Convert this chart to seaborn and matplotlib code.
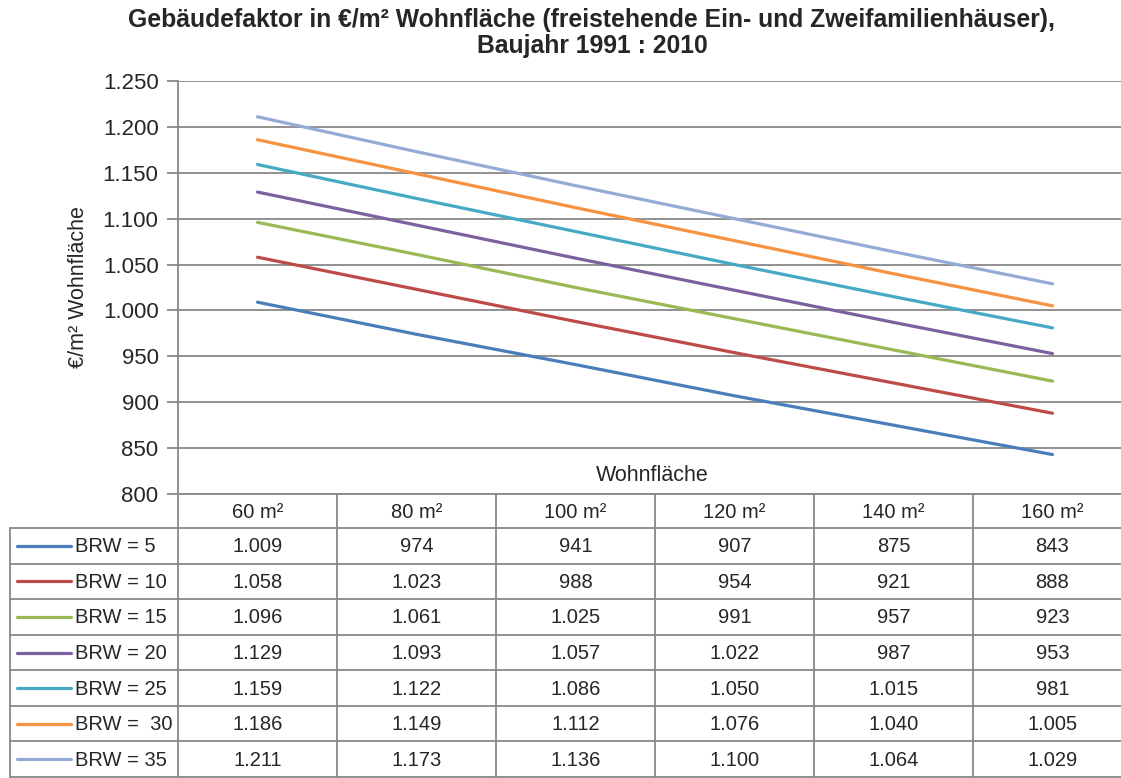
import matplotlib
matplotlib.use('Agg')
import matplotlib.pyplot as plt
import seaborn as sns
import pandas as pd
import numpy as np

# Daten
flaechen = ['60 m²', '80 m²', '100 m²', '120 m²', '140 m²', '160 m²']
serien = ['BRW = 5', 'BRW = 10', 'BRW = 15', 'BRW = 20', 'BRW = 25', 'BRW =  30', 'BRW = 35']
brw_5 = [1009, 974, 941, 907, 875, 843]
brw_10 = [1058, 1023, 988, 954, 921, 888]
brw_15 = [1096, 1061, 1025, 991, 957, 923]
brw_20 = [1129, 1093, 1057, 1022, 987, 953]
brw_25 = [1159, 1122, 1086, 1050, 1015, 981]
brw_30 = [1186, 1149, 1112, 1076, 1040, 1005]
brw_35 = [1211, 1173, 1136, 1100, 1064, 1029]
werte = [brw_5, brw_10, brw_15, brw_20, brw_25, brw_30, brw_35]
farben = ['#4A7EBB', '#BE4B48', '#98B954', '#7D60A0', '#46AAC5', '#F69240', '#95ABD6']

rows = []
for s, vals in zip(serien, werte):
    for i, v in enumerate(vals):
        rows.append({'serie': s, 'pos': i, 'wert': v})
df = pd.DataFrame(rows)

def de_fmt(v):
    return f'{v:,.0f}'.replace(',', '.')

sns.set_style('white')
plt.rcParams['font.family'] = ['Liberation Sans', 'DejaVu Sans']
grau = '#888888'

W, H = 1121, 778
fig = plt.figure(figsize=(W / 100, H / 100), dpi=100)

# Plotbereich in Pixeln
x0, y_top, y_bot = 178, 81, 494
col_w = 159
ax = fig.add_axes([x0 / W, 1 - y_bot / H, 6 * col_w / W, (y_bot - y_top) / H])
sns.lineplot(data=df, x='pos', y='wert', hue='serie', palette=farben,
             linewidth=2.3, legend=False, ax=ax)
ax.set_xlim(-0.5, 5.5)
ax.set_ylim(800, 1250)
ax.set_yticks(np.arange(800, 1251, 50))
ax.set_yticklabels([de_fmt(v) for v in np.arange(800, 1251, 50)], fontsize=16)
ax.set_xticks([])
ax.set_xlabel('')
ax.set_ylabel('€/m² Wohnfläche', fontsize=15.5, labelpad=10)
ax.yaxis.grid(True, color=grau, linewidth=1.3)
ax.tick_params(axis='y', length=8, width=1.3, color=grau, pad=6, left=True)
for sp in ['top', 'right']:
    ax.spines[sp].set_visible(False)
for sp in ['left', 'bottom']:
    ax.spines[sp].set_color(grau)
    ax.spines[sp].set_linewidth(1.3)
ax.text(2.48, 820, 'Wohnfläche', fontsize=15.5, ha='center', va='center')

# Titel
fig.text(592 / W, 1 - 20 / H, 'Gebäudefaktor in €/m² Wohnfläche (freistehende Ein- und Zweifamilienhäuser),',
         ha='center', va='center', fontsize=17.8, fontweight='bold')
fig.text(592 / W, 1 - 46 / H, 'Baujahr 1991 : 2010',
         ha='center', va='center', fontsize=17.8, fontweight='bold')

# Datentabelle
ov = fig.add_axes([0, 0, 1, 1])
ov.set_xlim(0, W)
ov.set_ylim(H, 0)
ov.axis('off')
ov.patch.set_visible(False)

hdr_bot = 528
row_h = (777 - hdr_bot) / len(serien)
x_right = x0 + 6 * col_w
lw = 1.3
for i in range(7):
    xc = x0 + i * col_w
    ov.plot([xc, xc], [y_bot, 777], color=grau, lw=lw)
ov.plot([10, 10], [hdr_bot, 777], color=grau, lw=lw)
for r in range(len(serien) + 1):
    yy = hdr_bot + r * row_h
    ov.plot([10, x_right], [yy, yy], color=grau, lw=lw)

for i, f in enumerate(flaechen):
    ov.text(x0 + (i + 0.5) * col_w, (y_bot + hdr_bot) / 2 + 1, f,
            ha='center', va='center', fontsize=14.5)

for r, (s, vals, c) in enumerate(zip(serien, werte, farben)):
    yc = hdr_bot + (r + 0.5) * row_h
    ov.plot([17, 71], [yc, yc], color=c, lw=2.3, solid_capstyle='round')
    ov.text(75, yc + 1, s, ha='left', va='center', fontsize=14.5)
    for i, v in enumerate(vals):
        ov.text(x0 + (i + 0.5) * col_w, yc + 1, de_fmt(v),
                ha='center', va='center', fontsize=14.5)

fig.savefig('out.png', dpi=100)
